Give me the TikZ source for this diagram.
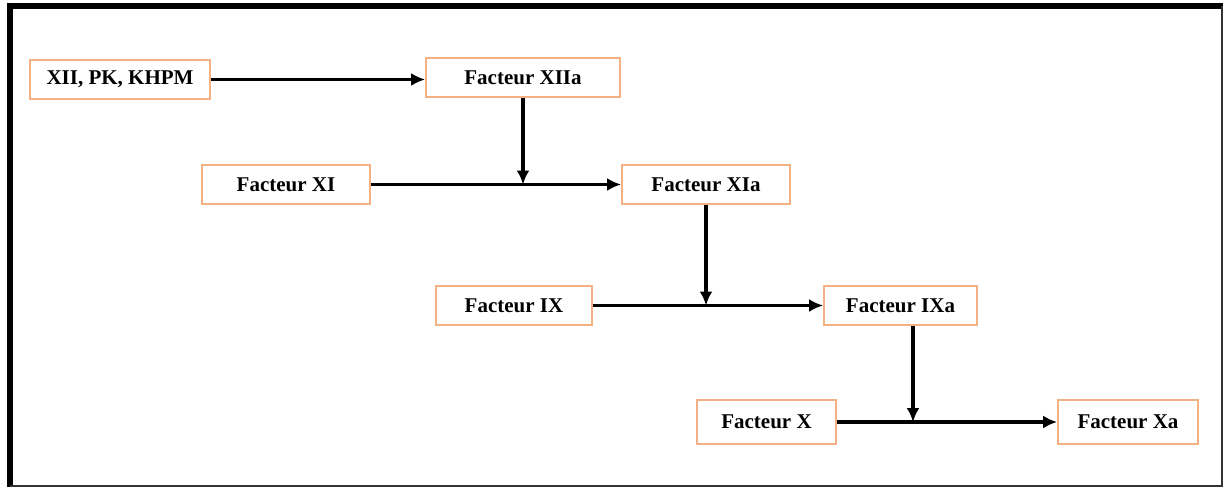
\documentclass[tikz,border=0pt]{standalone}
\usepackage{fontspec}
\setmainfont{Liberation Serif}
\usetikzlibrary{arrows.meta}
\definecolor{boxorange}{RGB}{244,177,131}

\begin{document}
\begin{tikzpicture}[x=1pt, y=-1pt, line width=3.2pt,
  facteur/.style={draw=boxorange, line width=1.8pt, inner sep=0pt,
    minimum height=39pt, font=\fontsize{21}{24}\selectfont\bfseries},
  flow/.style={-{Latex[length=14pt,width=13pt]}}]
  \useasboundingbox (0,0) rectangle (1224,488);
  % Frame
  \draw[line width=6pt] (9.7,487) -- (9.7,5.7) -- (1222.5,5.7);
  \draw[line width=1.4pt, black!80] (1222,5.7) -- (1222,486) -- (9.7,486);
  % Boxes
  \node[facteur, minimum width=180pt] (xii)  at (120,79.5)   {XII, PK, KHPM};
  \node[facteur, minimum width=194pt] (xiia) at (523,77.5)   {Facteur XIIa};
  \node[facteur, minimum width=168pt] (xi)   at (286,184.5)  {Facteur XI};
  \node[facteur, minimum width=168pt] (xia)  at (706,184.5)  {Facteur XIa};
  \node[facteur, minimum width=156pt] (ix)   at (514,305.5)  {Facteur IX};
  \node[facteur, minimum width=153pt] (ixa)  at (900.5,305.5) {Facteur IXa};
  \node[facteur, minimum width=139pt, minimum height=44pt] (x)  at (766.5,422) {Facteur X};
  \node[facteur, minimum width=140pt, minimum height=44pt] (xa) at (1128,422)  {Facteur Xa};
  % Junctions on the horizontal arrows
  \coordinate (j1) at (xiia.south |- xi.east);
  \coordinate (j2) at (xia.south |- ix.east);
  \coordinate (j3) at (913,422);
  % Arrows
  \draw[flow] (xii.east) -- (xii.east -| xiia.west);
  \draw[flow] (xiia.south) -- (j1);
  \draw[flow] (xi.east) -- (xia.west);
  \draw[flow] (xia.south) -- (j2);
  \draw[flow] (ix.east) -- (ixa.west);
  \draw[flow] (j3 |- ixa.south) -- (j3);
  \draw[flow] (x.east) -- (xa.west);
\end{tikzpicture}
\end{document}
